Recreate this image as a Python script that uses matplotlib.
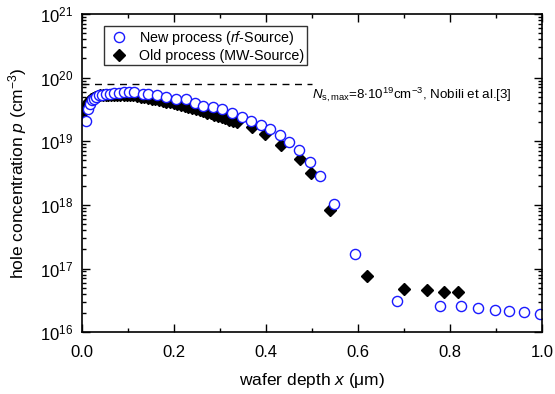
import numpy as np
import matplotlib
matplotlib.use('Agg')
import matplotlib.pyplot as plt
from matplotlib.ticker import LogLocator, MultipleLocator, NullFormatter

plt.rcParams['font.family'] = ['Liberation Sans', 'DejaVu Sans']
plt.rcParams['mathtext.fontset'] = 'custom'
plt.rcParams['mathtext.rm'] = 'Liberation Sans'
plt.rcParams['mathtext.it'] = 'Liberation Sans:italic'

# new process (rf-source), open circles
x_new = [0.010, 0.013, 0.018, 0.022, 0.026, 0.032, 0.038, 0.045, 0.052, 0.061,
         0.071, 0.081, 0.092, 0.102, 0.113, 0.133, 0.145, 0.164, 0.184, 0.206,
         0.226, 0.246, 0.264, 0.286, 0.305, 0.327, 0.348, 0.368, 0.389, 0.410,
         0.431, 0.451, 0.472, 0.496, 0.518, 0.548, 0.594, 0.685, 0.779, 0.824,
         0.861, 0.898, 0.928, 0.960, 0.995]
p_new = [2.09e19, 3.16e19, 3.85e19, 4.37e19, 4.68e19, 5.01e19, 5.25e19, 5.37e19, 5.50e19, 5.62e19,
         5.75e19, 5.75e19, 5.89e19, 5.89e19, 5.89e19, 5.62e19, 5.50e19, 5.25e19, 5.01e19, 4.68e19,
         4.57e19, 3.98e19, 3.63e19, 3.47e19, 3.24e19, 2.75e19, 2.40e19, 2.09e19, 1.78e19, 1.55e19,
         1.26e19, 9.8e18, 7.2e18, 4.8e18, 2.8e18, 1.02e18, 1.7e17, 3.1e16, 2.6e16, 2.57e16,
         2.4e16, 2.24e16, 2.14e16, 2.04e16, 1.95e16]

# old process (MW-source), filled diamonds
x_old = [0.004, 0.008, 0.012, 0.016, 0.020, 0.025, 0.030, 0.035, 0.040, 0.046,
         0.052, 0.058, 0.064, 0.070, 0.077, 0.084, 0.091, 0.098, 0.105, 0.112,
         0.120, 0.128, 0.136, 0.144, 0.152, 0.160, 0.168, 0.176, 0.184, 0.192,
         0.200, 0.208, 0.216, 0.224, 0.232, 0.240, 0.248, 0.256, 0.264, 0.272,
         0.280, 0.288, 0.296, 0.304, 0.312, 0.320, 0.328, 0.337, 0.369, 0.398,
         0.433, 0.474, 0.498, 0.539, 0.619, 0.700, 0.749, 0.786, 0.818]
p_old = [2.29e19, 3.16e19, 3.80e19, 4.27e19, 4.57e19, 4.79e19, 5.01e19, 5.13e19, 5.25e19, 5.25e19,
         5.37e19, 5.37e19, 5.37e19, 5.37e19, 5.37e19, 5.37e19, 5.37e19, 5.37e19, 5.25e19, 5.25e19,
         5.13e19, 5.01e19, 4.90e19, 4.79e19, 4.68e19, 4.57e19, 4.47e19, 4.27e19, 4.17e19, 4.07e19,
         3.98e19, 3.80e19, 3.72e19, 3.55e19, 3.47e19, 3.31e19, 3.16e19, 3.09e19, 2.95e19, 2.82e19,
         2.75e19, 2.63e19, 2.51e19, 2.40e19, 2.29e19, 2.19e19, 2.09e19, 2.04e19, 1.66e19, 1.32e19,
         8.7e18, 5.2e18, 3.2e18, 8.3e17, 7.6e16, 4.7e16, 4.6e16, 4.3e16, 4.3e16]

ns_max = 8e19
ns_xrange = [0.0, 0.5]

fig = plt.figure(figsize=(5.55, 3.94), dpi=100)
ax = fig.add_axes([0.147, 0.157, 0.83, 0.8075])

ax.plot(x_old, p_old, 'D', color='black', markersize=6.5, linestyle='none',
        label='Old process (MW-Source)')
ax.plot(x_new, p_new, 'o', markerfacecolor='white', markeredgecolor='#1a1aff',
        markeredgewidth=1.0, markersize=7.3, linestyle='none',
        label=r'New process ($\it{rf}$-Source)')
ax.plot(ns_xrange, [ns_max, ns_max], 'k--', linewidth=1.0, dashes=(5, 4))

ax.text(0.50, 5.3e19, r'$\it{N}_{\rm s,max}$=8$\cdot$10$^{19}$cm$^{-3}$, Nobili et al.[3]',
        fontsize=9.6, va='center', ha='left')

ax.set_yscale('log')
ax.set_xlim(0, 1)
ax.set_ylim(1e16, 1e21)
ax.xaxis.set_major_locator(MultipleLocator(0.2))
ax.xaxis.set_minor_locator(MultipleLocator(0.1))
ax.xaxis.set_major_formatter(plt.FuncFormatter(lambda v, p: f'{v:.1f}'))
ax.yaxis.set_major_locator(LogLocator(base=10, numticks=10))
ax.yaxis.set_minor_locator(LogLocator(base=10, subs=np.arange(2, 10), numticks=10))
ax.yaxis.set_minor_formatter(NullFormatter())
ax.tick_params(which='both', direction='in', top=True, right=True, labelsize=12, width=1.0)
ax.tick_params(which='major', length=6)
ax.tick_params(which='minor', length=3)
ax.tick_params(axis='x', which='major', pad=9)
ax.tick_params(axis='y', which='major', pad=6)
for s in ax.spines.values():
    s.set_linewidth(1.2)

ax.set_xlabel(r'wafer depth $\it{x}$ ($\rm\mu$m)', fontsize=12.5, labelpad=8)
ax.set_ylabel(r'hole concentration $\it{p}$ (cm$^{-3}$)', fontsize=12.5, labelpad=8)

h, l = ax.get_legend_handles_labels()
leg = ax.legend(h[::-1], l[::-1], loc='upper left', bbox_to_anchor=(0.04, 0.975),
                fontsize=10.3, frameon=True, fancybox=False, edgecolor='black',
                borderpad=0.2, handletextpad=0.6, labelspacing=0.1, borderaxespad=0.3,
                handlelength=1.6)
leg.get_frame().set_linewidth(1.0)

fig.savefig('out.png', dpi=100)
